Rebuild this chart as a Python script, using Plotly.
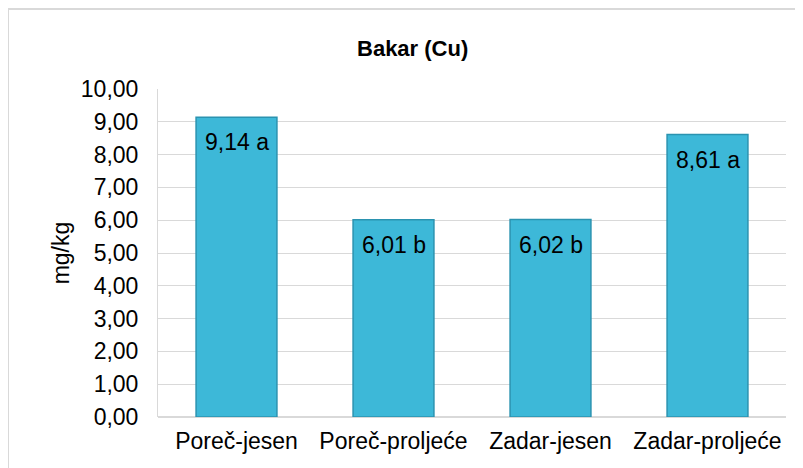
import plotly.graph_objects as go

categories = ["Poreč-jesen", "Poreč-proljeće", "Zadar-jesen", "Zadar-proljeće"]
values = [9.14, 6.01, 6.02, 8.61]
letters = ["a", "b", "b", "a"]
tick_vals = [i for i in range(11)]
tick_text = [f"{v},00" for v in tick_vals]

labels = [f"{v:.2f}".replace(".", ",") + " " + l for v, l in zip(values, letters)]

FONT = "Liberation Sans, Arial, sans-serif"

fig = go.Figure()
fig.add_trace(go.Bar(
    x=categories, y=values,
    marker=dict(color="#3DB8D8", line=dict(color="#2B93B0", width=1.5)),
))

for c, v, t in zip(categories, values, labels):
    fig.add_annotation(x=c, y=v, text=t, showarrow=False, yanchor="middle",
                       yshift=-25, font=dict(family=FONT, size=23, color="black"))

fig.update_layout(
    width=795, height=460,
    margin=dict(l=150, r=17, t=81, b=51),
    paper_bgcolor="white", plot_bgcolor="white",
    bargap=0.485,
    showlegend=False,
    font=dict(family=FONT, size=23, color="black"),
    title=dict(text="<b>Bakar (Cu)</b>", xref="container", x=0.509, xanchor="center",
               yref="container", y=1 - 40 / 460, yanchor="middle",
               font=dict(size=22, color="black")),
    xaxis=dict(showline=False, showgrid=False, ticks="", tickfont=dict(size=23),
               ticklabelstandoff=8),
    yaxis=dict(range=[0, 10], tickvals=tick_vals, ticktext=tick_text, showgrid=True,
               gridcolor="#D9D9D9", gridwidth=1, showline=True, linecolor="#D9D9D9",
               zeroline=True, zerolinecolor="#D9D9D9", ticks="", tickfont=dict(size=23),
               ticklabelstandoff=14,
               title=dict(text="mg/kg", font=dict(size=23), standoff=4)),
    shapes=[dict(type="rect", xref="paper", yref="paper",
                 x0=-150 / 628, x1=1.2, y0=-0.3, y1=1 + 80 / 328,
                 line=dict(color="#D9D9D9", width=2), fillcolor="rgba(0,0,0,0)", layer="below")],
)

fig.write_html("out.html")
